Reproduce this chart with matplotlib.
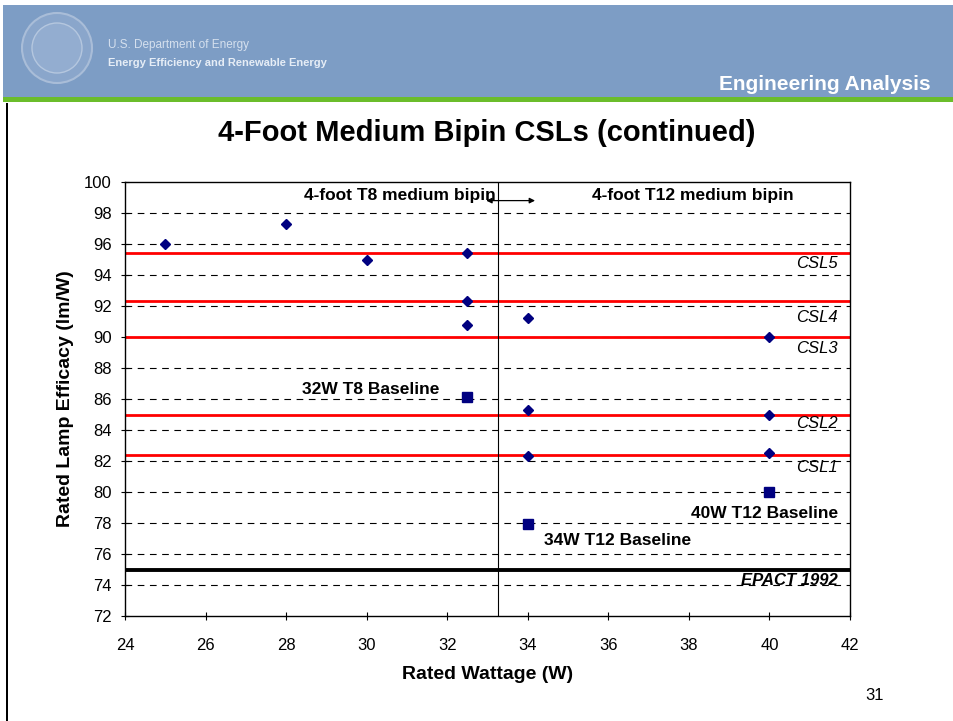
import matplotlib
matplotlib.use("Agg")
import matplotlib.pyplot as plt
from matplotlib.patches import Rectangle, Ellipse

# Data
diamond_w = [25, 28, 30, 32.5, 32.5, 32.5, 34, 40, 34, 40, 34, 40]
diamond_e = [96.0, 97.3, 95.0, 95.4, 92.35, 90.8, 91.2, 90.0, 85.3, 85.0, 82.35, 82.5]
square_w = [32.5, 34, 40]
square_e = [86.15, 77.95, 80.0]
csl_names = ["CSL5", "CSL4", "CSL3", "CSL2", "CSL1"]
csl_levels = [95.4, 92.3, 90.0, 85.0, 82.4]
epact_level = 75.0
divider_w = 33.25
x_ticks = list(range(24, 43, 2))
y_ticks = list(range(72, 101, 2))

fig = plt.figure(figsize=(9.54, 7.21), dpi=100)
fig.patch.set_facecolor("white")

W, H = 954, 721
def fx(px): return px / W
def fy(py): return 1 - py / H
FONT = "Liberation Sans"

# Header
fig.patches.append(Rectangle((fx(3), fy(97)), fx(951), 92 / H, transform=fig.transFigure,
                             facecolor="#7d9dc5", edgecolor="none", zorder=0))
fig.patches.append(Rectangle((fx(3), fy(102)), fx(951), 5 / H, transform=fig.transFigure,
                             facecolor="#6bbd2b", edgecolor="none", zorder=0))
fig.patches.append(Rectangle((fx(6), fy(721)), 2 / W, 618 / H, transform=fig.transFigure,
                             facecolor="black", edgecolor="none", zorder=0))
fig.patches.append(Ellipse((fx(57), fy(48)), 70 / W, 70 / H, transform=fig.transFigure,
                           facecolor="#8aa6cb", edgecolor="#a9bdd8", lw=1.5, zorder=1))
fig.patches.append(Ellipse((fx(57), fy(48)), 50 / W, 50 / H, transform=fig.transFigure,
                           facecolor="#93add0", edgecolor="#b5c7df", lw=1, zorder=1))
fig.text(fx(108), fy(45), "U.S. Department of Energy", color="#d5e0ee", fontsize=8.5,
         ha="left", va="center", family=FONT)
fig.text(fx(108), fy(63), "Energy Efficiency and Renewable Energy", color="#e6edf6", fontsize=8,
         fontweight="bold", ha="left", va="center", family=FONT)
fig.text(fx(931), fy(84), "Engineering Analysis", color="white", fontsize=15,
         fontweight="bold", ha="right", va="center", family=FONT)

fig.text(fx(487), fy(133), "4-Foot Medium Bipin CSLs (continued)", fontsize=21,
         fontweight="bold", ha="center", va="center", family=FONT)
fig.text(fx(875), fy(695), "31", fontsize=12, ha="center", va="center", family=FONT)

ax = fig.add_axes([fx(125), fy(616), (850 - 125) / W, (616 - 182) / H])
ax.set_xlim(24, 42)
ax.set_ylim(72, 100)
ax.set_xticks(x_ticks)
ax.set_yticks(y_ticks)
ax.tick_params(direction="inout", length=6, labelsize=12, width=0.8)
ax.tick_params(axis="x", pad=13)
ax.tick_params(axis="y", pad=6.5)
for lbl in ax.get_xticklabels() + ax.get_yticklabels():
    lbl.set_family(FONT)
for s in ax.spines.values():
    s.set_linewidth(1.0)

for y in y_ticks[1:-1]:
    ax.axhline(y, color="black", lw=0.8, ls=(0, (6, 5)), zorder=1)

for lvl in csl_levels:
    ax.axhline(lvl, color="#ff0000", lw=2.0, zorder=2)
ax.axhline(epact_level, color="black", lw=2.8, zorder=2)
ax.axvline(divider_w, color="black", lw=0.8, zorder=2)

ax.plot(diamond_w, diamond_e, ls="none", marker="D", ms=5.5, color="#000080", zorder=4)
ax.plot(square_w, square_e, ls="none", marker="s", ms=7.5, color="#000080", zorder=4)

txt = dict(family=FONT, fontsize=12.5, zorder=5)
ax.text(33.2, 99.1, "4-foot T8 medium bipin", ha="right", va="center", fontweight="bold", **txt)
ax.text(35.6, 99.1, "4-foot T12 medium bipin", ha="left", va="center", fontweight="bold", **txt)
ax.annotate("", xy=(34.25, 98.8), xytext=(32.9, 98.8),
            arrowprops=dict(arrowstyle="<|-|>", lw=0.9, color="black", mutation_scale=8))
ax.text(28.4, 86.6, "32W T8 Baseline", ha="left", va="center", fontweight="bold", **txt)
ax.text(41.7, 78.6, "40W T12 Baseline", ha="right", va="center", fontweight="bold", **txt)
ax.text(34.4, 76.9, "34W T12 Baseline", ha="left", va="center", fontweight="bold", **txt)

csl_offsets = [-0.63, -1.07, -0.71, -0.55, -0.85]
for name, lvl, off in zip(csl_names, csl_levels, csl_offsets):
    ax.text(41.7, lvl + off, name, ha="right", va="center", style="italic",
            family=FONT, fontsize=12, zorder=5)
ax.text(41.7, 74.32, "EPACT 1992", ha="right", va="center", style="italic", fontweight="bold",
        family=FONT, fontsize=12, zorder=5)

ax.set_xlabel("Rated Wattage (W)", fontsize=14, fontweight="bold", family=FONT, labelpad=9)
ax.set_ylabel("Rated Lamp Efficacy (lm/W)", fontsize=14, fontweight="bold", family=FONT, labelpad=7)

fig.savefig("out.png", dpi=100)
